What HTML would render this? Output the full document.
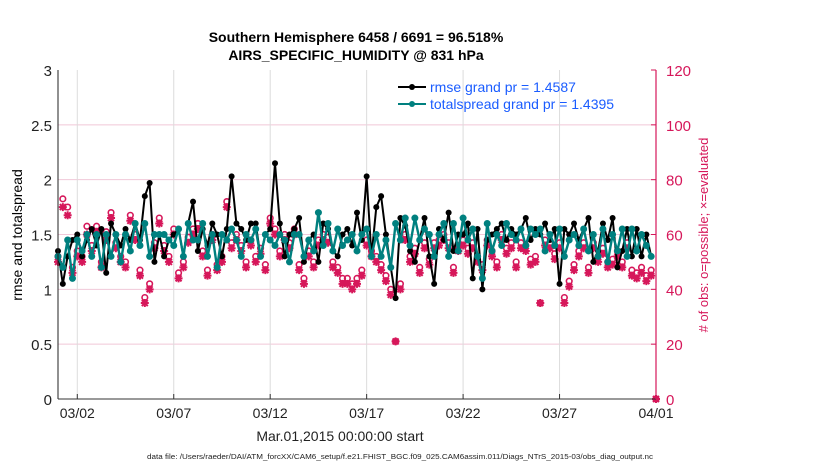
<!DOCTYPE html>
<html><head><meta charset="utf-8">
<style>
html,body{margin:0;padding:0;background:#fff;}
svg{display:block;font-family:"Liberation Sans",Arial,sans-serif;}
</style></head>
<body>
<svg id="chart" width="830" height="470" viewBox="0 0 830 470">
<rect width="830" height="470" fill="#fff"/>
<g id="grid"></g>
<g id="plot"></g>
<g id="axes"></g>
<g id="legend"></g>
<text x="356" y="42" text-anchor="middle" font-size="14" font-weight="bold">Southern Hemisphere 6458 / 6691 = 96.518%</text>
<text x="356" y="60" text-anchor="middle" font-size="14" font-weight="bold">AIRS_SPECIFIC_HUMIDITY @ 831 hPa</text>
<text transform="translate(22,235) rotate(-90)" text-anchor="middle" font-size="14">rmse and totalspread</text>
<text transform="translate(708,235) rotate(-90)" text-anchor="middle" font-size="13" fill="#d6175a"># of obs: o=possible; ×=evaluated</text>
<text x="340" y="441" text-anchor="middle" font-size="14" fill="#222">Mar.01,2015 00:00:00 start</text>
<text x="147" y="459" font-size="7" textLength="506" lengthAdjust="spacingAndGlyphs" fill="#222">data file: /Users/raeder/DAI/ATM_forcXX/CAM6_setup/f.e21.FHIST_BGC.f09_025.CAM6assim.011/Diags_NTrS_2015-03/obs_diag_output.nc</text>
</svg>
<script>
const rmse=[1.35,1.05,1.3,1.45, 1.5,1.3,1.45,1.55, 1.4,1.55,1.15,1.6, 1.5,1.4,1.55,1.45, 1.6,1.45,1.85,1.97,
1.25,1.5,1.3,1.45, 1.5,1.55,1.3,1.6, 1.8,1.35,1.55,1.4, 1.6,1.5,1.3,1.55, 2.03,1.6,1.55,1.45,
1.6,1.6,1.3,1.5, 1.55,2.15,1.6,1.3, 1.5,1.55,1.65,1.25, 1.45,1.5,1.25,1.6, 1.55,1.35,1.3,1.5,
1.55,1.4,1.7,1.45, 2.03,1.3,1.75,1.85, 1.5,1.2,0.92,1.65, 1.58,1.35,1.25,1.45, 1.65,1.3,1.05,1.55,
1.45,1.7,1.35,1.5, 1.5,1.6,1.1,1.55, 1.0,1.45,1.5,1.55, 1.6,1.45,1.55,1.5, 1.55,1.65,1.45,1.55,
1.5,1.6,1.45,1.55, 1.05,1.55,1.5,1.6, 1.45,1.55,1.65,1.25, 1.35,1.6,1.45,1.65, 1.2,1.35,1.55,1.3,
1.55,1.3,1.5,1.3];
const spread=[1.3,1.2,1.45,1.1, 1.45,1.35,1.5,1.3, 1.5,1.2,1.5,1.3, 1.5,1.25,1.5,1.35, 1.6,1.4,1.6,1.3,
1.5,1.5,1.5,1.45, 1.4,1.55,1.3,1.6, 1.45,1.45,1.6,1.3, 1.5,1.2,1.5,1.45, 1.55,1.45,1.3,1.5,
1.45,1.55,1.3,1.5, 1.45,1.4,1.5,1.45, 1.25,1.5,1.5,1.3, 1.45,1.35,1.7,1.4, 1.6,1.35,1.55,1.4,
1.45,1.5,1.35,1.5, 1.55,1.3,1.5,1.3, 1.45,1.2,1.6,1.45, 1.65,1.4,1.65,1.45, 1.55,1.5,1.3,1.5,
1.6,1.3,1.6,1.35, 1.65,1.45,1.55,1.3, 1.1,1.6,1.35,1.5, 1.4,1.6,1.5,1.45, 1.55,1.4,1.55,1.5,
1.55,1.35,1.5,1.4, 1.55,1.3,1.45,1.5, 1.4,1.55,1.35,1.5, 1.3,1.55,1.25,1.5, 1.35,1.55,1.3,1.55,
1.35,1.5,1.4,1.3];
const evaluated=[50,70,67,46, 52,50,60,54, 61,48,58,66, 55,50,48,65, 58,45,35,40,
55,64,54,50, 60,44,48,57, 60,62,52,45, 58,47,50,70, 55,58,54,48,
56,50,53,47, 64,60,52,58, 55,60,47,42, 52,48,56,58, 57,48,46,42,
42,40,42,45, 56,52,50,47, 43,38,21,40, 58,50,53,46, 55,49,55,56,
58,55,46,54, 56,53,55,50, 47,56,52,48, 58,53,55,48, 55,54,49,50,
35,56,55,51, 55,35,41,47, 52,55,46,55, 50,53,48,49, 52,48,55,45,
44,46,43,45, 0];
const possible=[52,73,70,48, 54,52,63,56, 63,50,61,68, 57,52,50,67, 60,47,37,42,
57,66,56,52, 62,46,50,59, 62,64,54,47, 60,49,52,72, 57,60,56,50,
58,52,55,49, 66,62,54,60, 57,62,49,44, 54,50,58,60, 59,50,48,44,
44,42,44,47, 58,54,52,49, 45,40,21,42, 60,52,55,48, 57,51,57,58,
60,57,48,56, 58,55,57,52, 49,58,54,50, 60,55,57,50, 57,56,51,52,
35,58,57,53, 57,37,43,49, 54,57,48,57, 52,55,50,51, 54,50,57,47,
46,48,45,47, 0];
const xTickDays=[1,6,11,16,21,26,31];
const xTickLabels=["03/02","03/07","03/12","03/17","03/22","03/27","04/01"];
const yTicks=[0,0.5,1,1.5,2,2.5,3];
const yTickLabels=["0","0.5","1","1.5","2","2.5","3"];
const y2Ticks=[0,20,40,60,80,100,120];

const NS="http://www.w3.org/2000/svg";
const X0=58,X1=656,Y0=399,Y1=70;
const xs=d=>X0+(d/31)*(X1-X0);
const ys=v=>Y0-(v/3)*(Y0-Y1);
const y2s=v=>Y0-(v/120)*(Y0-Y1);
const tOf=i=>i*0.25;
function mk(tag,attrs,parent){const e=document.createElementNS(NS,tag);for(const k in attrs)e.setAttribute(k,attrs[k]);parent.appendChild(e);return e;}
const grid=document.getElementById('grid'),plot=document.getElementById('plot'),axes=document.getElementById('axes'),legend=document.getElementById('legend');
const PINK="#d6175a",TEAL="#00807f";

yTicks.forEach((v,i)=>{
  if(v>0&&v<3){const g=mk('line',{x1:X0,x2:X1,y1:ys(v),y2:ys(v),stroke:"#f0c8d8","stroke-width":1},grid);
  
  }
  const t=mk('text',{x:X0-6,y:ys(v)+6,"text-anchor":"end","font-size":15,fill:"#222"},axes);t.textContent=yTickLabels[i];
  
  
});
y2Ticks.forEach(v=>{
  const t=mk('text',{x:X1+10,y:y2s(v)+6,"font-size":15,fill:PINK},axes);t.textContent=String(v);
  
  
  mk('line',{x1:X1-5,x2:X1,y1:y2s(v),y2:y2s(v),stroke:PINK},axes);
});
xTickDays.forEach((d,i)=>{
  const g=mk('line',{x1:xs(d),x2:xs(d),y1:Y1,y2:Y0,stroke:"#dcdcdc","stroke-width":1},grid);
  
  
  mk('line',{x1:xs(d),x2:xs(d),y1:Y0,y2:Y0-5,stroke:"#333"},axes);
  const t=mk('text',{x:xs(d),y:Y0+19,"text-anchor":"middle","font-size":14,fill:"#222"},axes);t.textContent=xTickLabels[i];
  
  
});
const la=mk('line',{x1:X0,x2:X0,y1:Y1,y2:Y0,stroke:"#222","stroke-width":1},axes);


const ba=mk('line',{x1:X0,x2:X1,y1:Y0,y2:Y0,stroke:"#333","stroke-width":1},axes);


const ra=mk('line',{x1:X1,x2:X1,y1:Y1,y2:Y0,stroke:PINK,"stroke-width":1.2},axes);



possible.forEach((v,i)=>{
  const c=mk('circle',{cx:xs(tOf(i)),cy:y2s(v),r:2.8,fill:"none",stroke:PINK,"stroke-width":1.6},plot);
  
  
});
evaluated.forEach((v,i)=>{
  const x=xs(tOf(i)),y=y2s(v),s=4;
  const p=mk('path',{d:`M${x-s} ${y}H${x+s}M${x} ${y-s}V${y+s}M${x-3} ${y-3}L${x+3} ${y+3}M${x-3} ${y+3}L${x+3} ${y-3}`,stroke:PINK,"stroke-width":2},plot);
  
  
});
function series(arr,color,name,r,w){
  const pts=arr.map((v,i)=>xs(tOf(i)).toFixed(1)+","+ys(v).toFixed(1)).join(" ");
  const pl=mk('polyline',{points:pts,fill:"none",stroke:color,"stroke-width":w,"stroke-linejoin":"round"},plot);
  
  
  arr.forEach((v,i)=>{
    const c=mk('circle',{cx:xs(tOf(i)),cy:ys(v),r:r,fill:color},plot);
    
    
  });
}
series(rmse,"#000","rmse",3,2);
series(spread,TEAL,"totalspread",3.5,2.4);

[["#000","rmse grand pr = 1.4587",92,"legend-entry-rmse"],[TEAL,"totalspread grand pr = 1.4395",109,"legend-entry-totalspread"]].forEach(e=>{
  const g=mk('g',{},legend);
  
  
  mk('line',{x1:398,x2:426,y1:e[2]-5,y2:e[2]-5,stroke:e[0],"stroke-width":2},g);
  mk('circle',{cx:412,cy:e[2]-5,r:3,fill:e[0]},g);
  const t=mk('text',{x:430,y:e[2],"font-size":14,fill:"#1a5cff"},g);t.textContent=e[1];
});
</script>
</body></html>
